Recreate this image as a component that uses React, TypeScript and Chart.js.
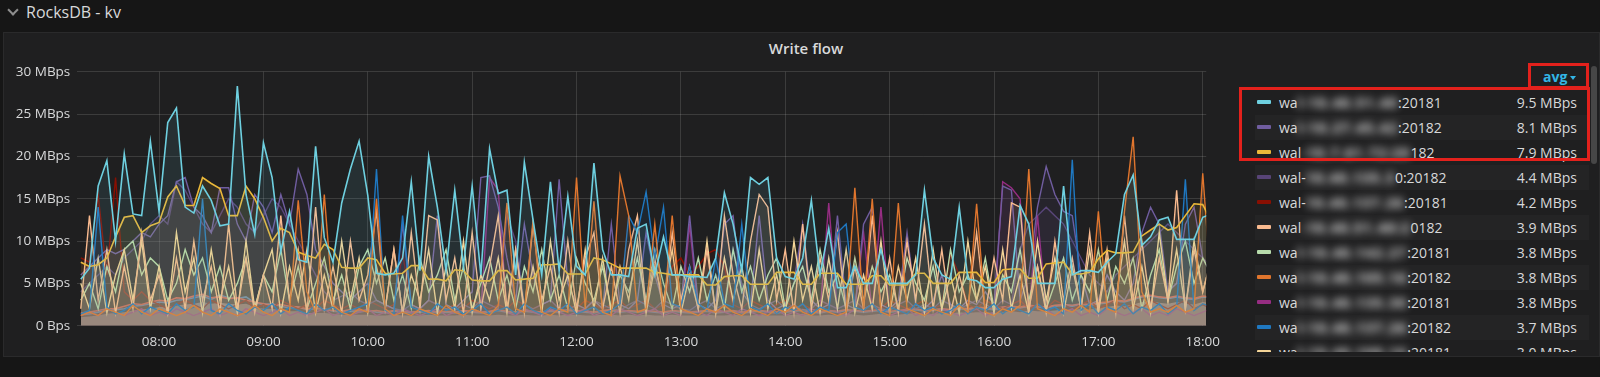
import React, { useEffect, useRef } from "react";
import { Chart, registerables } from "chart.js";

Chart.register(...registerables);

// ---- time axis (minutes since midnight) ----
const START_MIN = 435; // 07:15
const STEP_MIN = 5;
const X_MIN = 433;
const X_MAX = 1082;
const HOUR_TICKS = [480, 540, 600, 660, 720, 780, 840, 900, 960, 1020, 1080];
const Y_TICKS = [0, 5, 10, 15, 20, 25, 30];

// ---- series values (MBps), one value every 5 minutes from 07:15 ----
const cyanVals = [
  5.5, 6.8, 16.5, 19.5, 10, 20.3, 13.2, 13.0, 21.8, 13.5, 24, 25.7, 14.0, 13.3, 16.5, 14.8, 11.8, 12.0, 28.3, 15.5, 10.8, 21.6, 17.5, 8.8, 13.5, 7.8, 7.5, 21.2, 10.4, 7.5, 14.5, 18.5, 21.8,
  15.4, 6.2, 6.0, 6.2, 8.0, 17.0, 6.5, 20.0, 14, 6.5, 16.0, 7.0, 16.5, 6.0, 20.9, 15.6, 16.0, 6.0, 19.3, 12.5, 6.0, 17.0, 6.5, 15.3, 7.0, 6.0, 19.2, 9.0, 6.0, 6.0, 5.8, 11.5, 12.0,
  6.0, 10.5, 6.0, 6.0, 5.8, 5.8, 5.7, 8.0, 15.7, 12.0, 6.5, 17.5, 16.7, 17.5, 8.0, 5.8, 5.5, 8.0, 14.8, 6.0, 11.5, 4.5, 4.5, 7.0, 5.0, 5.0, 9.0, 5.0, 5.0, 5.0, 6.0, 16.0,
  8.0, 6.0, 5.5, 14.0, 5.5, 5.3, 4.5, 4.5, 5.5, 5.8, 14.2, 12.0, 5.0, 5.0, 5.0, 16.5, 6.0, 6.5, 6.5, 6.3, 7.5, 8.5, 15.5, 17.8, 9.5, 10.5, 12.5, 12.8, 10.2, 10.2, 10.2, 12.8, 13.2,
];
const yellowVals = [
  7.5, 7.0, 7.2, 8.0, 10.5, 12.8, 13.0, 11.0, 11.8, 12.2, 15.2, 16.5, 14.2, 14.2, 17.5, 16.8, 16.2, 13.0, 13.0, 16.5, 15.0, 12.8, 10.0, 11.5, 11.0, 8.7, 8.3, 8.0, 9.6, 9.0, 6.9, 6.8, 6.8,
  8.0, 7.8, 6.2, 6.1, 6.2, 7.1, 7.1, 5.5, 5.5, 5.3, 6.6, 6.5, 5.4, 5.3, 5.3, 6.5, 6.5, 5.4, 5.5, 5.6, 7.2, 7.2, 7.3, 6.1, 6.1, 6.1, 8.0, 7.8, 7.3, 6.8, 6.8, 6.8, 6.8,
  6.3, 6.2, 6.0, 6.0, 6.0, 6.0, 4.8, 4.8, 5.8, 5.9, 5.9, 4.9, 4.9, 4.9, 6.3, 6.3, 6.3, 4.9, 4.9, 6.2, 6.2, 6.2, 4.9, 4.9, 4.9, 5.9, 5.9, 4.8, 4.8, 4.8, 6.2, 6.2,
  5.0, 5.0, 5.0, 6.3, 6.3, 6.3, 5.1, 5.1, 6.6, 6.7, 6.7, 5.6, 5.6, 7.3, 7.4, 7.5, 6.1, 6.1, 6.3, 7.9, 8.9, 8.6, 8.6, 8.7, 10.6, 11.3, 12.0, 11.3, 11.6, 13.0, 14.4, 14.3, 12.3,
];
const purpleVals = [
  6, 7, 8, 9, 8.5, 9, 10, 11, 10.5, 12, 13, 17, 17.5, 14, 13, 11, 16.3, 16.3, 12, 10, 15.5, 14, 11, 15.5, 12, 18.5,
  15.5, 9, 7, 5, 4, 3, 4, 5, 3, 2.5, 2, 12, 2.5, 2, 3, 13, 2.5, 2, 3, 4, 17.5, 17.7, 14, 8, 3, 12,
  6, 2.5, 3, 17.3, 5, 2.5, 2, 3, 2, 12, 2.5, 2, 3, 11, 6, 2.5, 2, 2.5, 13, 2.5, 2, 3, 12, 13, 4, 2.5, 13, 3, 2,
  2.5, 5, 12, 3, 2, 2.5, 13, 2.5, 2, 12, 14, 2.5, 2, 3, 11, 2.5, 2, 3, 6, 2.5, 2, 3, 2.5, 4,
  2.5, 16.5, 16, 3, 6, 14, 18.8, 15.5, 13.5, 13, 6, 2.5, 3, 6, 4, 3, 5, 11, 14, 12, 4, 5, 12, 14, 8, 6,
];
const orangeVals = [
  1.2, 1.6, 1.2, 2.0, 1.6, 1.2, 2.4, 1.6, 1.2, 2.0, 1.6, 1.2, 1.6, 2.4, 1.6, 1.2, 2.0, 1.6, 1.2, 1.6, 2.4, 1.6, 1.2, 2.0, 1.6, 14.8,
  4, 1.6, 15.5, 2.4, 1.6, 1.2, 2.0, 1.6, 15.0, 2.0, 1.2, 1.6, 1.2, 2.0, 1.6, 1.2, 2.4, 1.6, 1.2, 2.0, 1.6, 1.2, 2.4, 14.5, 2.0, 1.6,
  12.5, 1.6, 1.2, 2.0, 1.6, 17.5, 2.0, 14.7, 1.6, 1.2, 17.7, 13, 1.6, 2.0, 12, 1.6, 13, 2.0, 1.6, 1.2, 2.0, 1.6, 2.4, 1.6, 1.2, 2.0,
  1.6, 1.2, 2.0, 1.6, 2.4, 1.6, 1.2, 2.0, 1.6, 1.2, 1.6, 16.3, 2.0, 15, 1.6, 1.2, 14.5, 2.0, 1.6, 1.2, 2.0, 1.6, 1.2, 2.4, 1.6, 14.4,
  1.6, 1.2, 2.0, 1.6, 2.4, 18.5, 2.0, 1.6, 1.2, 2.0, 1.6, 2.4, 1.6, 13.5, 2.0, 1.6, 13.5, 22.3, 4, 1.6, 2.0, 1.6, 2.4, 1.6, 2.0, 18, 4,
];
const peachVals = [
  2, 13, 3, 9, 1.5, 7, 2, 11, 3, 6, 1.5, 8, 2, 10, 3, 7, 1.5, 12, 2, 8, 1.5, 6, 2, 13, 3, 9,
  1.5, 14, 2, 7, 1.5, 10, 3, 6, 13.5, 2, 9, 1.5, 11, 2, 13, 12.5, 3, 8, 1.5, 11, 2, 7, 13, 2, 9, 1.5,
  12, 3, 7, 1.5, 10, 2, 8, 11, 2, 7, 1.5, 9, 13, 2, 8, 1.5, 11, 3, 7, 2, 9, 1.5, 13, 6, 2, 10,
  15.5, 14, 3, 9, 1.5, 12, 2, 8, 3, 11, 1.5, 7, 2, 13, 2, 8, 1.5, 10, 3, 12, 2, 9, 1.5, 6, 2, 11,
  1.5, 8, 3, 14.5, 14, 2, 7, 1.5, 10, 3, 8, 2, 11, 2, 9, 1.5, 13, 3, 10, 2, 8, 3, 16, 2, 9, 4, 8,
];
const greenVals = [
  3, 5, 2, 7, 4, 9, 10, 6, 8, 7, 3, 5, 9, 6, 8, 4, 7, 3, 5, 8, 2, 6, 4, 9, 3, 7,
  2, 5, 8, 3, 6, 2, 7, 9, 5, 8, 3, 6, 2, 8, 4, 6, 9, 3, 7, 2, 5, 8, 3, 6, 2, 7,
  4, 9, 3, 6, 2, 8, 5, 3, 7, 2, 6, 4, 8, 3, 9, 5, 2, 7, 4, 8, 3, 6, 2, 9, 4, 7,
  3, 6, 8, 2, 5, 7, 3, 9, 4, 6, 2, 8, 3, 7, 4, 6, 2, 8, 5, 3, 7, 2, 9, 4, 6, 3,
  8, 2, 6, 4, 9, 3, 7, 2, 5, 8, 3, 6, 4, 9, 3, 7, 5, 8, 2, 6, 9, 3, 7, 10, 5, 8, 6,
];
const creamVals = [
  5, 2, 8, 1.5, 6, 9, 3, 10, 2, 7, 1.5, 11, 4, 8, 1.5, 9, 3, 7, 1.5, 10, 2, 6, 9, 1.5, 7, 3,
  9, 1.5, 6, 2, 10, 3, 8, 1.5, 7, 2, 9, 1.5, 6, 3, 9, 1.5, 7, 2, 10, 1.5, 6, 3, 8, 1.5, 9, 2,
  7, 1.5, 10, 3, 6, 1.5, 9, 2, 8, 1.5, 7, 3, 10, 1.5, 7, 3, 9, 1.5, 6, 2, 10, 1.5, 8, 3, 7, 1.5,
  9, 2, 6, 1.5, 10, 3, 7, 1.5, 8, 2, 9, 1.5, 6, 2, 10, 1.5, 7, 3, 8, 1.5, 9, 2, 6, 1.5, 10, 3,
  7, 1.5, 9, 2, 6, 1.5, 10, 3, 8, 1.5, 7, 2, 9, 1.5, 8, 3, 10, 2, 7, 1.5, 11, 3, 9, 2, 10, 4, 8,
];
const blueVals = [
  1.4, 1.8, 14, 2.2, 1.4, 1.8, 2.6, 1.4, 2.2, 1.8, 1.4, 2.6, 1.8, 2.2, 15, 1.8, 1.4, 2.6, 1.8, 1.4, 2.2, 1.8, 2.6, 1.4, 2.2, 1.8,
  1.4, 2.6, 1.8, 2.2, 1.4, 1.8, 2.2, 2.6, 18.5, 1.8, 1.4, 13, 2.2, 1.8, 1.4, 2.6, 1.8, 2.2, 1.4, 1.8, 2.6, 1.4, 1.8, 2.2, 1.4, 2.6,
  1.8, 1.4, 2.2, 1.8, 2.6, 1.4, 1.8, 2.2, 1.4, 1.8, 2.6, 13, 11, 15.8, 8, 14, 2.6, 2.2, 7, 2.6, 1.8, 8, 2.6, 2.2, 12, 2.2,
  1.8, 2.6, 1.4, 2.2, 1.8, 2.6, 1.4, 2.2, 1.8, 11, 12, 2.2, 1.8, 2.6, 1.4, 2.2, 1.8, 1.4, 2.6, 1.8, 2.2, 1.4, 1.8, 2.6, 1.4, 2.2,
  1.8, 2.6, 1.4, 2.2, 1.8, 1.4, 2.6, 1.8, 2.2, 1.4, 19.6, 1.8, 2.6, 1.4, 2.2, 1.8, 2.6, 1.4, 2.2, 1.8, 2.6, 1.4, 2.2, 17.3, 1.8, 2.6, 2.2,
];
const magentaVals = [
  1.2, 1.6, 1.2, 2.0, 1.6, 1.2, 1.6, 2.0, 1.2, 1.6, 1.2, 2.0, 1.6, 1.2, 1.6, 2.0, 1.2, 1.6, 1.2, 2.0, 1.6, 1.2, 1.6, 2.0, 1.2, 1.6,
  1.2, 1.6, 2.0, 1.2, 1.6, 1.2, 1.6, 2.0, 1.2, 1.6, 1.2, 2.0, 1.6, 1.2, 1.6, 2.0, 1.2, 1.6, 1.2, 2.0, 1.6, 17.5, 16, 1.6, 1.2, 2.0,
  1.6, 1.2, 2.0, 1.6, 1.2, 1.6, 2.0, 1.2, 1.6, 1.2, 2.0, 1.6, 1.2, 1.6, 2.0, 1.2, 1.6, 1.2, 12, 1.6, 1.2, 2.0, 1.6, 1.2, 2.0, 1.6,
  1.2, 1.6, 2.0, 1.2, 1.6, 1.2, 2.0, 1.6, 14.5, 1.6, 1.2, 2.0, 11, 1.6, 14, 1.2, 1.6, 2.0, 1.2, 1.6, 1.2, 2.0, 1.6, 1.2, 1.6, 2.0,
  1.2, 1.6, 17, 16.3, 15, 1.6, 13, 2.0, 1.2, 1.6, 2.0, 1.2, 1.6, 1.2, 2.0, 1.6, 1.2, 1.6, 2.0, 1.2, 1.6, 1.2, 2.0, 1.6, 1.2, 1.6, 2.0,
];
const darkPurpleVals = [
  4, 5, 6, 7, 6, 8, 9, 10, 12, 13, 12, 17, 16, 14, 12, 11, 13, 15, 14, 12, 11, 13, 15, 14, 12, 10,
  8, 6, 4, 3, 3.5, 4, 3, 2.5, 3, 2.5, 2, 1.8, 2.5, 2, 3, 2.5, 2, 1.8, 2.5, 2, 3, 2.5, 2, 13, 10, 2.5,
  2, 2.5, 3, 2, 1.8, 2.5, 2, 3, 2.5, 2, 1.8, 2.5, 3, 2.5, 2, 3, 2.5, 2, 1.8, 2.5, 3, 2, 2.5, 9, 5, 2.5,
  2, 2.5, 3, 2, 2.5, 1.8, 2, 3, 2.5, 2, 2.5, 3, 2, 2.5, 2, 1.8, 2.5, 3, 2, 2.5, 2, 3, 2.5, 2, 2.5, 3,
  2.5, 2, 3, 2.5, 9, 12, 13, 14, 13, 12, 10, 8, 6, 5, 4, 6, 7, 8, 9, 10, 11, 12, 11, 10, 9, 8, 7,
];
const darkRedVals = [
  8, 7.5, 15.4, 6, 17.5, 4, 3, 4, 3, 2.5, 2, 2.5, 3, 2.5, 2, 3, 2.5, 2, 2.5, 3, 2, 2.5, 2, 3, 2.5, 2,
  2.5, 2, 3, 2.5, 2, 2.5, 2, 3, 2.5, 2, 2.5, 8.5, 2.5, 2, 3, 2.5, 2, 2.5, 2, 3, 2.5, 2, 2.5, 2, 3, 2.5,
  2, 2.5, 3, 2, 2.5, 2, 3, 2.5, 2, 2.5, 3, 2, 2.5, 3, 2, 2.5, 7, 8, 6, 7, 8.5, 9, 7, 2.5, 2, 3,
  2.5, 2, 2.5, 3, 2, 2.5, 2, 3, 2.5, 2, 2.5, 3, 2, 2.5, 2, 3, 2.5, 2, 2.5, 3, 2, 2.5, 8.5, 6, 2.5, 2,
  3, 2.5, 2, 2.5, 3, 2, 2.5, 2, 3, 2.5, 2, 2.5, 3, 2, 2.5, 3, 2, 2.5, 2, 3, 2.5, 2, 2.5, 3, 2, 2.5, 2,
];
const lowRedVals = [
  1.5, 1.6, 1.8, 2.0, 2.0, 2.3, 2.6, 2.5, 2.8, 3.0, 2.9, 3.3, 3.2, 3.5, 3.7, 3.3, 3.4, 3.2, 3.3, 3.0, 2.8, 2.6, 2.4, 2.5, 2.3, 2.2,
  2.0, 2.1, 1.9, 1.8, 1.7, 1.9, 1.8, 1.7, 1.8, 1.6, 1.8, 1.7, 1.6, 1.7, 1.8, 1.6, 1.7, 1.6, 1.8, 1.7, 1.6, 1.7, 1.9, 1.7, 1.6, 1.8,
  1.7, 1.6, 1.8, 1.7, 1.9, 1.8, 1.7, 1.6, 1.8, 1.9, 1.7, 1.8, 1.7, 1.8, 1.7, 1.6, 1.8, 1.7, 1.6, 1.7, 1.8, 1.6, 1.7, 1.8, 1.6, 1.7,
  1.8, 1.7, 1.6, 1.7, 1.8, 1.9, 1.7, 1.6, 1.8, 1.7, 1.9, 1.8, 1.7, 1.8, 1.9, 1.7, 1.8, 1.9, 2.0, 1.8, 1.9, 2.0, 1.9, 2.1, 2.0, 2.2,
  2.1, 2.0, 2.2, 2.3, 2.2, 2.4, 2.3, 2.2, 2.4, 2.5, 2.4, 2.6, 2.5, 2.7, 2.8, 3.0, 2.9, 3.2, 3.5, 3.6, 3.4, 3.3, 3.5, 3.3, 3.2, 3.5, 3.4,
];
const lowBlueVals = [
  1.3, 1.4, 1.6, 1.8, 1.9, 2.0, 2.3, 2.4, 2.6, 2.8, 2.7, 3.0, 3.1, 3.3, 3.5, 3.1, 3.6, 3.3, 3.2, 3.4, 2.7, 2.5, 2.6, 2.3, 2.1, 2.2,
  1.9, 2.0, 2.0, 1.7, 1.6, 1.7, 1.6, 1.8, 1.6, 1.5, 1.7, 1.6, 1.5, 1.6, 1.7, 1.5, 1.6, 1.5, 1.7, 1.6, 1.5, 1.6, 1.8, 1.6, 1.5, 1.7,
  1.6, 1.5, 1.7, 1.6, 1.8, 1.7, 1.6, 1.5, 1.7, 1.8, 1.6, 1.7, 1.6, 1.7, 1.6, 1.5, 1.7, 1.6, 1.5, 1.6, 1.7, 1.5, 1.6, 1.7, 1.5, 1.6,
  1.7, 1.6, 1.5, 1.6, 1.7, 1.8, 1.6, 1.5, 1.7, 1.6, 1.8, 1.7, 1.6, 1.7, 1.8, 1.6, 1.7, 1.8, 1.9, 1.7, 1.8, 1.9, 1.8, 2.0, 1.9, 2.1,
  2.0, 1.9, 2.1, 2.2, 2.1, 2.3, 2.2, 2.1, 2.3, 2.4, 2.3, 2.5, 2.4, 2.6, 2.7, 2.9, 2.8, 3.1, 3.4, 3.5, 3.3, 3.2, 3.4, 3.2, 3.1, 3.4, 3.3,
];
const baseVals = [
  1.0, 1.1, 1.2, 1.4, 1.5, 1.6, 1.8, 1.9, 2.0, 2.2, 2.2, 2.4, 2.5, 2.6, 2.8, 2.6, 2.7, 2.6, 2.5, 2.6, 2.2, 2.0, 2.0, 1.8, 1.7, 1.7,
  1.5, 1.5, 1.5, 1.4, 1.3, 1.3, 1.3, 1.3, 1.2, 1.2, 1.3, 1.2, 1.2, 1.2, 1.3, 1.2, 1.2, 1.2, 1.3, 1.2, 1.2, 1.2, 1.3, 1.2, 1.2, 1.3,
  1.2, 1.2, 1.3, 1.2, 1.3, 1.3, 1.2, 1.2, 1.3, 1.3, 1.2, 1.3, 1.2, 1.3, 1.2, 1.2, 1.3, 1.2, 1.2, 1.2, 1.3, 1.2, 1.2, 1.3, 1.2, 1.2,
  1.3, 1.2, 1.2, 1.2, 1.3, 1.4, 1.2, 1.2, 1.3, 1.2, 1.4, 1.3, 1.2, 1.3, 1.4, 1.2, 1.3, 1.4, 1.5, 1.3, 1.4, 1.5, 1.4, 1.6, 1.5, 1.6,
  1.6, 1.5, 1.6, 1.7, 1.6, 1.8, 1.7, 1.7, 1.8, 1.9, 1.8, 2.0, 1.9, 2.1, 2.2, 2.4, 2.3, 2.5, 2.8, 2.9, 2.7, 2.6, 2.8, 2.6, 2.5, 2.8, 2.7,
];

// ---- legend (sorted by avg) ----
const legendPrefix = ["wa", "wa", "wal", "wal-", "wal-", "wal", "wa", "wa", "wa", "wa", "wa"];
const legendHidden = [
  "l-10.40.51.40", "l-10.27.45.42", "-10.7.61.72:20", "10.40.135.3", "10.40.137.26",
  "-10.40.51.40:2", "l-10.40.142.27", "l-10.40.105.16", "l-10.40.135.30", "l-10.40.137.26", "l-10.40.108.16",
];
const legendSuffix = [":20181", ":20182", "182", "0:20182", ":20181", "0182", ":20181", ":20182", ":20181", ":20182", ":20181"];
const legendAvg = ["9.5 MBps", "8.1 MBps", "7.9 MBps", "4.4 MBps", "4.2 MBps", "3.9 MBps", "3.8 MBps", "3.8 MBps", "3.8 MBps", "3.7 MBps", "3.0 MBps"];
const legendColors = ["#6ED0E0", "#705DA0", "#EAB839", "#584477", "#890F02", "#F9BA8F", "#B7DBAB", "#E0752D", "#962D82", "#1F78C1", "#F4D598"];

const FONT = '"Open Sans", "Noto Sans", sans-serif';
const TEXT = "#d8d9da";

function rgba(hex: string, a: number) {
  const n = parseInt(hex.slice(1), 16);
  return `rgba(${(n >> 16) & 255},${(n >> 8) & 255},${n & 255},${a})`;
}

function hhmm(v: number) {
  const h = Math.floor(v / 60);
  const m = Math.round(v % 60);
  return `${String(h).padStart(2, "0")}:${String(m).padStart(2, "0")}`;
}

export default function App() {
  const ref = useRef<HTMLCanvasElement>(null);

  useEffect(() => {
    const series = [
      { label: "cyan", color: "#6ED0E0", data: cyanVals, w: 1.6 },
      { label: "yellow", color: "#EAB839", data: yellowVals, w: 1.6 },
      { label: "orange", color: "#E0752D", data: orangeVals, w: 1.4 },
      { label: "blue", color: "#1F78C1", data: blueVals, w: 1.4 },
      { label: "peach", color: "#F9BA8F", data: peachVals, w: 1.4 },
      { label: "cream", color: "#F4D598", data: creamVals, w: 1.4 },
      { label: "green", color: "#B7DBAB", data: greenVals, w: 1.4 },
      { label: "purple", color: "#705DA0", data: purpleVals, w: 1.4 },
      { label: "magenta", color: "#962D82", data: magentaVals, w: 1.4 },
      { label: "darkpurple", color: "#584477", data: darkPurpleVals, w: 1.4 },
      { label: "darkred", color: "#890F02", data: darkRedVals, w: 1.4 },
      { label: "lowred", color: "#E24D42", data: lowRedVals, w: 1.6 },
      { label: "lowblue", color: "#447EBC", data: lowBlueVals, w: 1.6 },
    ];
    const datasets: any[] = series.map((s) => ({
      label: s.label,
      data: s.data.map((v, i) => ({ x: START_MIN + i * STEP_MIN, y: v })),
      borderColor: s.color,
      backgroundColor: rgba(s.color, 0.1),
      borderWidth: s.w,
      fill: "origin",
      pointRadius: 0,
      tension: 0,
    }));
    datasets.push({
      label: "base",
      data: baseVals.map((v, i) => ({ x: START_MIN + i * STEP_MIN, y: v })),
      borderColor: "rgba(0,0,0,0)",
      backgroundColor: "#8a7a78",
      borderWidth: 0,
      fill: "origin",
      pointRadius: 0,
      tension: 0,
    });

    const tickFont = { family: FONT, size: 13.5 };
    const chart = new Chart(ref.current!, {
      type: "line",
      data: { datasets },
      options: {
        responsive: false,
        animation: false,
        devicePixelRatio: 1,
        layout: { padding: { top: 39.7, right: 14, left: 0, bottom: 0 } },
        plugins: {
          legend: { display: false },
          tooltip: { enabled: false },
          title: { display: false },
        },
        scales: {
          x: {
            type: "linear",
            min: X_MIN,
            max: X_MAX,
            afterBuildTicks: (s: any) => {
              s.ticks = HOUR_TICKS.map((v) => ({ value: v }));
            },
            afterFit: (s: any) => {
              s.height = 31.3;
            },
            ticks: {
              callback: (v: any) => hhmm(Number(v)),
              color: TEXT,
              font: tickFont,
              padding: 8,
              maxRotation: 0,
              autoSkip: false,
            },
            grid: { color: "rgba(255,255,255,0.13)", drawTicks: false },
            border: { display: false },
          },
          y: {
            type: "linear",
            min: 0,
            max: 30,
            afterBuildTicks: (s: any) => {
              s.ticks = Y_TICKS.map((v) => ({ value: v }));
            },
            afterFit: (s: any) => {
              s.width = 74.3;
            },
            ticks: {
              callback: (v: any) => (Number(v) === 0 ? "0 Bps" : `${v} MBps`),
              color: TEXT,
              font: tickFont,
              padding: 7,
            },
            grid: { color: "rgba(255,255,255,0.13)", drawTicks: false },
            border: { display: false },
          },
        },
      } as any,
    });
    return () => chart.destroy();
  }, []);

  const abs = (o: React.CSSProperties): React.CSSProperties => ({ position: "absolute", ...o });

  return (
    <div style={{ position: "fixed", left: 0, top: 0, width: 1600, height: 377, background: "#161616", overflow: "hidden", fontFamily: FONT }}>
      {/* header row */}
      <div style={abs({ left: 9, top: 6, width: 6, height: 6, borderRight: "2px solid #8e8e8e", borderBottom: "2px solid #8e8e8e", transform: "rotate(45deg)" })} />
      <div style={abs({ left: 26, top: 2, fontSize: 16, lineHeight: "20px", color: TEXT })}>RocksDB - kv</div>

      {/* panel */}
      <div style={abs({ left: 3, top: 32, width: 1597, height: 325, background: "#1f1f20", border: "1px solid #2a2a2b", boxSizing: "border-box" })} />
      <div style={abs({ left: 806, top: 39, transform: "translateX(-50%)", fontSize: 15, fontWeight: 600, lineHeight: "18px", color: TEXT, whiteSpace: "nowrap" })}>Write flow</div>

      <canvas ref={ref} width={1225} height={325} style={abs({ left: 3, top: 32, width: 1225, height: 325 })} />

      {/* legend header */}
      <div style={abs({ left: 1543, top: 68, fontSize: 14, fontWeight: 700, lineHeight: "18px", color: "#33b5e5" })}>avg</div>
      <div style={abs({ left: 1570, top: 76, width: 0, height: 0, borderLeft: "3.5px solid transparent", borderRight: "3.5px solid transparent", borderTop: "4px solid #33b5e5" })} />

      {/* legend table */}
      <div style={abs({ left: 1240, top: 89.5, width: 352, height: 262, overflow: "hidden" })}>
        {legendAvg.map((avg, i) => (
          <div key={i} style={{ position: "relative", height: 25, marginLeft: 15, width: 334, background: i % 2 === 1 ? "#242425" : "transparent" }}>
            <div style={abs({ left: 2, top: 10.5, width: 14, height: 4, borderRadius: 1, background: legendColors[i] })} />
            <div style={abs({ left: 24, top: 3, fontSize: 14, lineHeight: "19px", color: TEXT, whiteSpace: "nowrap" })}>
              <span>{legendPrefix[i]}</span>
              <span style={{ display: "inline-block", filter: "blur(4px)", color: "#ececec", fontWeight: 700, letterSpacing: 1.2 }}>{legendHidden[i]}</span>
              <span>{legendSuffix[i]}</span>
            </div>
            <div style={abs({ right: 12, top: 3, fontSize: 14, lineHeight: "19px", color: TEXT, whiteSpace: "nowrap" })}>{avg}</div>
          </div>
        ))}
      </div>

      {/* scrollbar */}
      <div style={abs({ left: 1591, top: 66, width: 6, height: 98, borderRadius: 3, background: "#474747" })} />

      {/* red highlight boxes */}
      <div style={abs({ left: 1528, top: 63, width: 61, height: 26, border: "3px solid #e3211c", boxSizing: "border-box" })} />
      <div style={abs({ left: 1239, top: 87, width: 351, height: 74, border: "3px solid #e3211c", boxSizing: "border-box" })} />
    </div>
  );
}
